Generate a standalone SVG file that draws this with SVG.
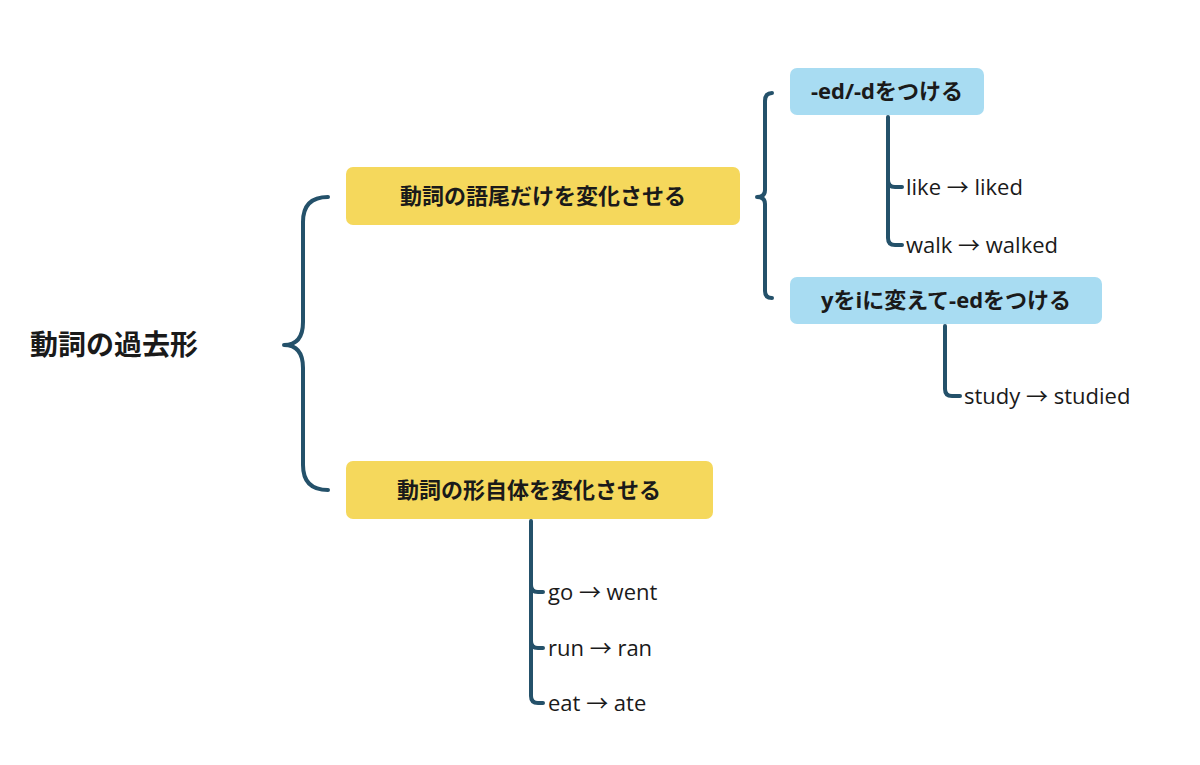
<svg xmlns="http://www.w3.org/2000/svg" width="1200" height="765" viewBox="0 0 1200 765">
<style>
.c{fill:none;stroke:#24516A;stroke-width:4;stroke-linecap:round;stroke-linejoin:round}
.y{fill:#F5D85C}
.b{fill:#A8DCF2}
.t{font-family:"Open Sans","Noto Sans CJK JP",sans-serif;fill:#1a1a1a}
.bt{font-weight:bold;font-size:22px}
.lt{font-size:22px}
</style>
<rect width="1200" height="765" fill="#fff"/>
<g id="connectors">
<path class="c" d="M328,197 Q303,197 303,222 V322 Q303,345 284,345 Q303,345 303,368 V465 Q303,490 328,490"/>
<path class="c" d="M772,93 Q765,93 765,101 V190 Q765,197 757,197 Q765,197 765,204 V291 Q765,298 772,298"/>
<path class="c" d="M888,117 V180 Q888,187 895,187 H902 M888,180 V238 Q888,245 895,245 H902"/>
<path class="c" d="M945,326 V389 Q945,396 952,396 H960"/>
<path class="c" d="M531,521 V585 Q531,592 538,592 H543 M531,585 V641 Q531,648 538,648 H543 M531,641 V696 Q531,703 538,703 H543"/>
</g>
<g id="root"><text class="t" x="30" y="355" font-size="28" font-weight="600">動詞の過去形</text></g>
<g id="n1"><rect class="y" x="346" y="167" width="394" height="58" rx="7"/><text class="t bt" x="543" y="204" text-anchor="middle">動詞の語尾だけを変化させる</text></g>
<g id="n2"><rect class="y" x="346" y="461" width="367" height="58" rx="7"/><text class="t bt" x="529" y="498" text-anchor="middle">動詞の形自体を変化させる</text></g>
<g id="b1"><rect class="b" x="790" y="68" width="194" height="47" rx="7"/><text class="t bt" x="887" y="99" text-anchor="middle">-ed/-dをつける</text></g>
<g id="b2"><rect class="b" x="790" y="277" width="312" height="47" rx="7"/><text class="t bt" x="946" y="308" text-anchor="middle">yをiに変えて-edをつける</text></g>
<g id="l1"><text class="t lt" x="906" y="195">like → liked</text></g>
<g id="l2"><text class="t lt" x="906" y="253">walk → walked</text></g>
<g id="l3"><text class="t lt" x="964" y="404">study → studied</text></g>
<g id="l4"><text class="t lt" x="548" y="600">go → went</text></g>
<g id="l5"><text class="t lt" x="548" y="656">run → ran</text></g>
<g id="l6"><text class="t lt" x="548" y="711">eat → ate</text></g>
</svg>
